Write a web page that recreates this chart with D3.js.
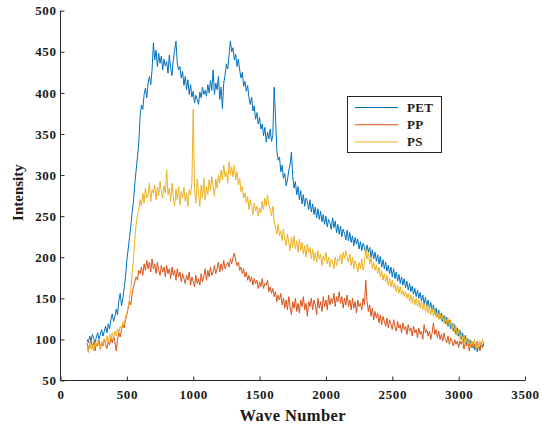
<!DOCTYPE html>
<html>
<head>
<meta charset="utf-8">
<script src="https://cdn.jsdelivr.net/npm/d3@7"></script>
<style>
  html, body { margin: 0; padding: 0; background: #fff; }
  svg { display: block; }
  text { font-family: "Liberation Serif", "Times New Roman", serif; font-weight: bold; fill: #1a1a1a; }
</style>
</head>
<body>
<svg id="chart" width="548" height="426"></svg>
<script>
// Wave numbers: 200 to 3190 in steps of 10
const waveStart = 200;
const waveStep = 10;

const seriesNames = ["PET", "PP", "PS"];
const seriesColors = ["#0072BD", "#D95319", "#EDB120"];

const xTicks = [0, 500, 1000, 1500, 2000, 2500, 3000, 3500];
const yTicks = [50, 100, 150, 200, 250, 300, 350, 400, 450, 500];

const petValues = [
  100,96,104,99,106,101,95,103,108,100,
  106,112,104,110,116,108,119,113,124,131,
  122,128,137,130,148,156,141,150,163,176,
  196,210,224,238,255,268,290,306,322,340,
  372,385,380,398,406,394,412,420,410,428,
  461,440,452,432,448,436,445,428,441,433,
  438,424,446,430,421,440,452,463,436,428,
  432,418,426,409,420,404,416,398,410,395,
  402,388,397,392,386,401,394,407,398,403,
  396,410,400,415,403,428,398,412,404,420,
  392,407,381,412,422,435,429,446,463,450,
  455,440,447,432,441,428,418,425,408,414,
  402,409,394,386,395,378,384,368,376,362,
  370,356,362,348,358,340,352,344,356,341,
  348,407,372,330,318,322,304,312,296,302,
  287,294,306,312,328,298,284,292,276,286,
  270,281,265,276,262,272,268,258,270,255,
  265,252,261,248,259,246,256,243,252,240,
  250,237,246,242,234,248,236,244,230,240,
  228,238,225,234,229,221,233,220,230,218,
  226,214,224,216,222,210,219,208,217,212,
  205,215,206,212,200,209,198,206,195,203,
  192,201,188,197,186,194,183,190,180,188,
  176,186,174,182,171,179,168,176,166,174,
  163,171,160,168,158,165,155,162,152,160,
  150,157,147,154,143,151,140,148,138,145,
  135,142,131,138,128,136,125,132,122,129,
  119,127,116,123,113,120,110,118,106,114,
  104,111,100,108,97,105,94,101,92,99,
  90,97,87,95,85,93,88,96,91,94
];

const ppValues = [
  96,88,94,100,90,97,86,95,92,99,
  88,96,92,100,94,89,98,93,102,96,
  104,97,86,100,108,103,112,118,114,124,
  130,138,146,142,156,164,170,176,172,184,
  180,188,178,192,184,196,186,194,182,198,
  186,192,180,194,184,178,190,182,188,176,
  190,180,186,174,188,178,184,172,186,176,
  182,170,180,174,168,178,172,182,166,176,
  170,164,178,168,174,166,180,170,176,186,
  172,184,176,188,178,182,190,180,186,194,
  182,192,184,196,186,190,194,188,198,192,
  200,205,196,190,194,184,188,180,186,176,
  182,172,178,170,176,166,174,168,172,162,
  170,164,174,162,168,166,172,158,164,156,
  162,152,158,146,154,148,156,142,150,138,
  148,136,152,140,130,146,138,150,134,144,
  132,148,140,152,136,144,128,146,140,150,
  136,148,142,130,150,138,146,134,152,140,
  148,136,154,142,150,144,156,140,152,146,
  158,144,152,138,150,142,154,140,148,136,
  150,138,146,132,148,140,144,136,150,142,
  172,146,134,142,128,138,124,134,126,132,
  120,130,118,128,122,116,126,114,124,118,
  112,124,116,110,122,114,118,108,120,112,
  116,106,118,110,114,104,116,108,112,102,
  114,106,110,100,118,108,112,104,110,100,
  108,120,106,112,102,110,100,106,98,108,
  100,96,104,94,102,98,92,100,94,98,
  90,98,94,100,88,96,92,98,86,94,
  96,90,94,88,98,92,86,94,90,96
];

const psValues = [
  90,84,95,88,93,86,97,91,99,94,
  89,98,93,101,95,104,97,106,100,108,
  102,110,104,113,107,116,112,121,118,127,
  132,140,150,162,180,198,222,240,252,258,
  270,262,278,266,284,272,276,290,268,282,
  278,288,270,285,275,292,280,272,287,278,
  306,276,284,268,290,274,262,283,270,286,
  264,280,272,285,268,278,262,282,276,290,
  380,284,266,295,278,262,288,272,296,270,
  286,276,294,281,298,286,274,295,284,300,
  290,306,294,312,298,304,290,316,300,310,
  298,312,294,304,288,296,280,286,272,278,
  266,274,258,270,262,252,266,256,262,250,
  260,254,268,258,272,262,276,264,258,250,
  262,244,236,228,240,226,232,220,234,222,
  214,228,218,208,224,212,226,210,220,206,
  222,208,218,204,214,200,216,206,212,198,
  210,196,206,194,208,198,204,190,202,196,
  206,192,200,188,198,194,186,200,190,198,
  196,204,192,206,198,208,200,194,204,190,
  200,186,196,190,182,194,186,198,184,192,
  212,198,206,192,200,186,194,184,190,180,
  188,176,184,172,180,170,178,166,174,164,
  172,162,168,158,166,156,164,154,160,152,
  158,150,156,146,154,144,152,142,150,140,
  148,138,146,136,144,134,142,132,140,130,
  138,128,136,126,134,124,132,122,130,120,
  128,118,126,116,124,112,120,108,116,104,
  112,100,108,97,104,94,102,92,100,90,
  98,92,100,88,96,90,98,92,100,95
];

const allValues = [petValues, ppValues, psValues];

const svg = d3.select("#chart");
const margin = { left: 60.5, right: 23, top: 10.7, bottom: 45.5 };
const W = 548, H = 426;

const x = d3.scaleLinear().domain([0, 3500]).range([margin.left, W - margin.right]);
const y = d3.scaleLinear().domain([50, 500]).range([H - margin.bottom, margin.top]);

const axisColor = "#262626";

const line = d3.line()
  .x((d, i) => x(waveStart + i * waveStep))
  .y(d => y(d));

allValues.forEach((vals, k) => {
  svg.append("path")
    .datum(vals)
    .attr("fill", "none")
    .attr("stroke", seriesColors[k])
    .attr("stroke-width", 1)
    .attr("stroke-linejoin", "round")
    .attr("d", line);
});

// x axis
const xAxis = d3.axisBottom(x).tickValues(xTicks).tickSize(-4).tickPadding(9).tickFormat(d3.format("d"));
const gx = svg.append("g").attr("transform", `translate(0,${y(50)})`).call(xAxis);
gx.attr("font-family", null);
gx.select(".domain").attr("stroke", axisColor).attr("d", `M${x(0)},0H${x(3500)}`);
gx.selectAll(".tick line").attr("stroke", axisColor);
gx.selectAll(".tick text").attr("font-size", 13).attr("letter-spacing", 0.6).attr("fill", axisColor)
  .style("font-family", "'Liberation Serif', serif").style("font-weight", "bold");

// y axis
const yAxis = d3.axisLeft(y).tickValues(yTicks).tickSize(-4).tickPadding(4).tickFormat(d3.format("d"));
const gy = svg.append("g").attr("transform", `translate(${x(0)},0)`).call(yAxis);
gy.attr("font-family", null);
gy.select(".domain").attr("stroke", axisColor).attr("d", `M0,${y(50)}V${y(500)}`);
gy.selectAll(".tick line").attr("stroke", axisColor);
gy.selectAll(".tick text").attr("font-size", 13).attr("letter-spacing", 0.6).attr("fill", axisColor)
  .style("font-family", "'Liberation Serif', serif").style("font-weight", "bold");

// axis titles
svg.append("text")
  .attr("x", (x(0) + x(3500)) / 2)
  .attr("y", 421)
  .attr("text-anchor", "middle")
  .attr("font-size", 16.5)
  .attr("letter-spacing", 0.4)
  .text("Wave Number");

svg.append("text")
  .attr("transform", `translate(23,${(y(50) + y(500)) / 2 - 3}) rotate(-90)`)
  .attr("text-anchor", "middle")
  .attr("font-size", 15)
  .text("Intensity");

// legend
const lg = svg.append("g");
lg.append("rect")
  .attr("x", 347.5).attr("y", 96.5).attr("width", 94).attr("height", 56)
  .attr("fill", "#fff").attr("stroke", axisColor).attr("stroke-width", 1);
seriesNames.forEach((name, k) => {
  const cy = 107.5 + k * 17.2;
  lg.append("line")
    .attr("x1", 355).attr("x2", 398).attr("y1", cy).attr("y2", cy)
    .attr("stroke", seriesColors[k]).attr("stroke-width", 1);
  lg.append("text")
    .attr("x", 407).attr("y", cy + 4.5)
    .attr("font-size", 13)
    .attr("letter-spacing", 0.3)
    .text(name);
});
</script>
</body>
</html>
